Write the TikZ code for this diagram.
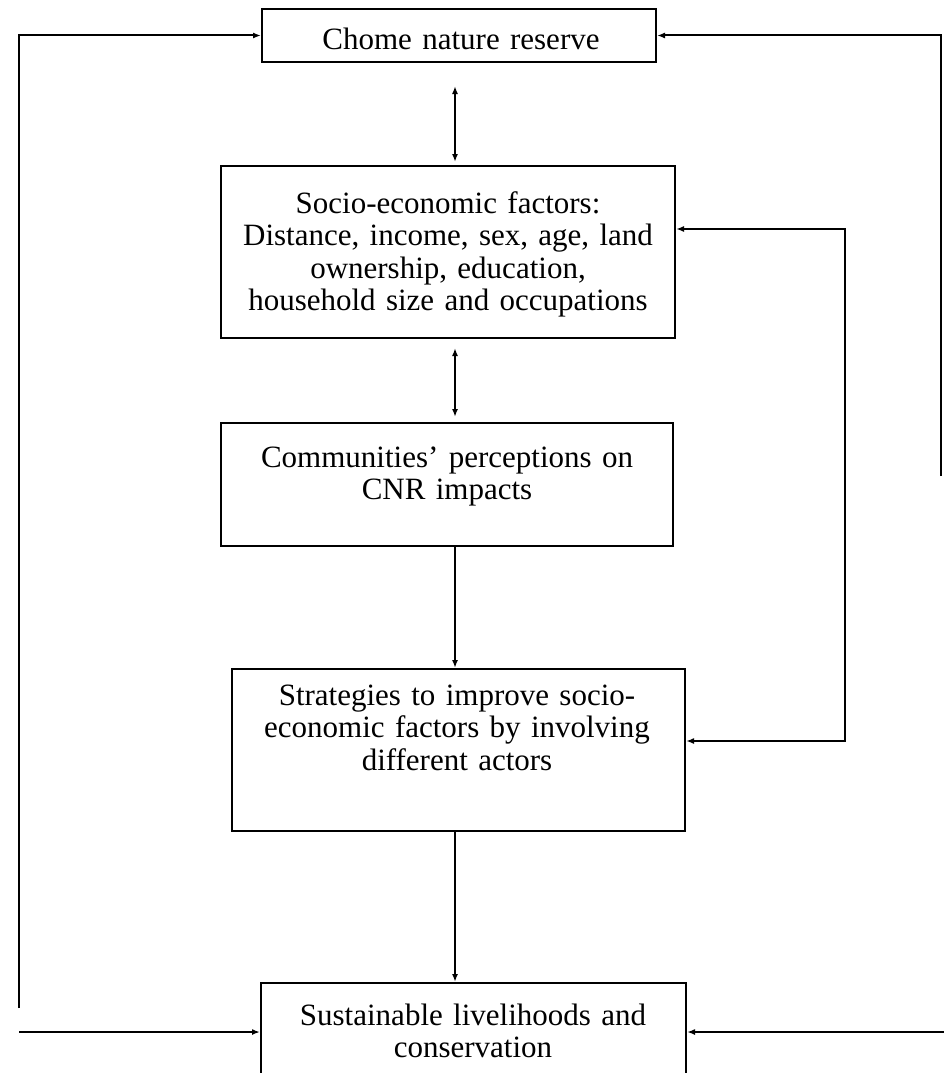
\documentclass[tikz,border=0pt]{standalone}
\usepackage{fontspec}
\setmainfont{Liberation Serif}
\usetikzlibrary{arrows.meta}
\begin{document}
\begin{tikzpicture}[x=1pt,y=-1pt, line width=2pt,
  box/.style={draw, rectangle, inner sep=0pt},
  lbl/.style={anchor=base, align=center, text width=440pt, inner sep=0pt,
    font=\fontsize{31}{32.5}\selectfont},
  tip/.style={-{Latex[length=8pt,width=6pt]}},
  both/.style={{Latex[length=8pt,width=6pt]}-{Latex[length=8pt,width=6pt]}}]
\path[use as bounding box] (0,0) rectangle (944,1073);
\clip (0,0) rectangle (944,1073);
% boxes
\node[box, minimum width=394pt, minimum height=53pt] (top) at (459,35.5) {};
\node[box, minimum width=454pt, minimum height=172pt] (socio) at (448,252) {};
\node[box, minimum width=452pt, minimum height=123pt] (comm) at (447,484.5) {};
\node[box, minimum width=453pt, minimum height=162pt] (strat) at (458.5,750) {};
\node[box, minimum width=425pt, minimum height=117pt] (sust) at (473.5,1041.5) {};
% texts
\node[lbl] (ttop) at (461,50) {Chome nature reserve};
\node[lbl] (tsocio) at (448,213) {Socio-economic factors:\\Distance, income, sex, age, land\\ownership, education,\\household size and occupations};
\node[lbl] (tcomm) at (447,467) {Communities' perceptions on\\CNR impacts};
\node[lbl] (tstrat) at (457,705) {Strategies to improve socio-\\economic factors by involving\\different actors};
\node[lbl] (tsust) at (473,1025) {Sustainable livelihoods and\\conservation};
% central connectors
\coordinate (cx) at (455,0);
\draw[both, shorten <=23pt, shorten >=3pt] (top.south -| cx) -- (socio.north -| cx);
\draw[both, shorten <=9pt, shorten >=5pt] (socio.south -| cx) -- (comm.north -| cx);
\draw[tip] (comm.south -| cx) -- (strat.north -| cx);
\draw[tip] (strat.south -| cx) -- (sust.north -| cx);
% outer loops
\coordinate (l1) at (19,1008);
\coordinate (l2) at (19,1032);
\coordinate (r1) at (941,476);
\coordinate (r2) at (944,1032);
\draw[tip] (l1) |- (top.west);
\draw[tip] (l2) -- (l2 -| sust.west);
\draw[tip] (r1) |- (top.east);
\draw[tip] (r2) -- (r2 -| sust.east);
% right feedback loop
\coordinate (k1) at (845,229);
\coordinate (k2) at (845,741);
\draw[both] (k1 -| socio.east) -- (k1) -- (k2) -- (k2 -| strat.east);
\end{tikzpicture}
\end{document}
